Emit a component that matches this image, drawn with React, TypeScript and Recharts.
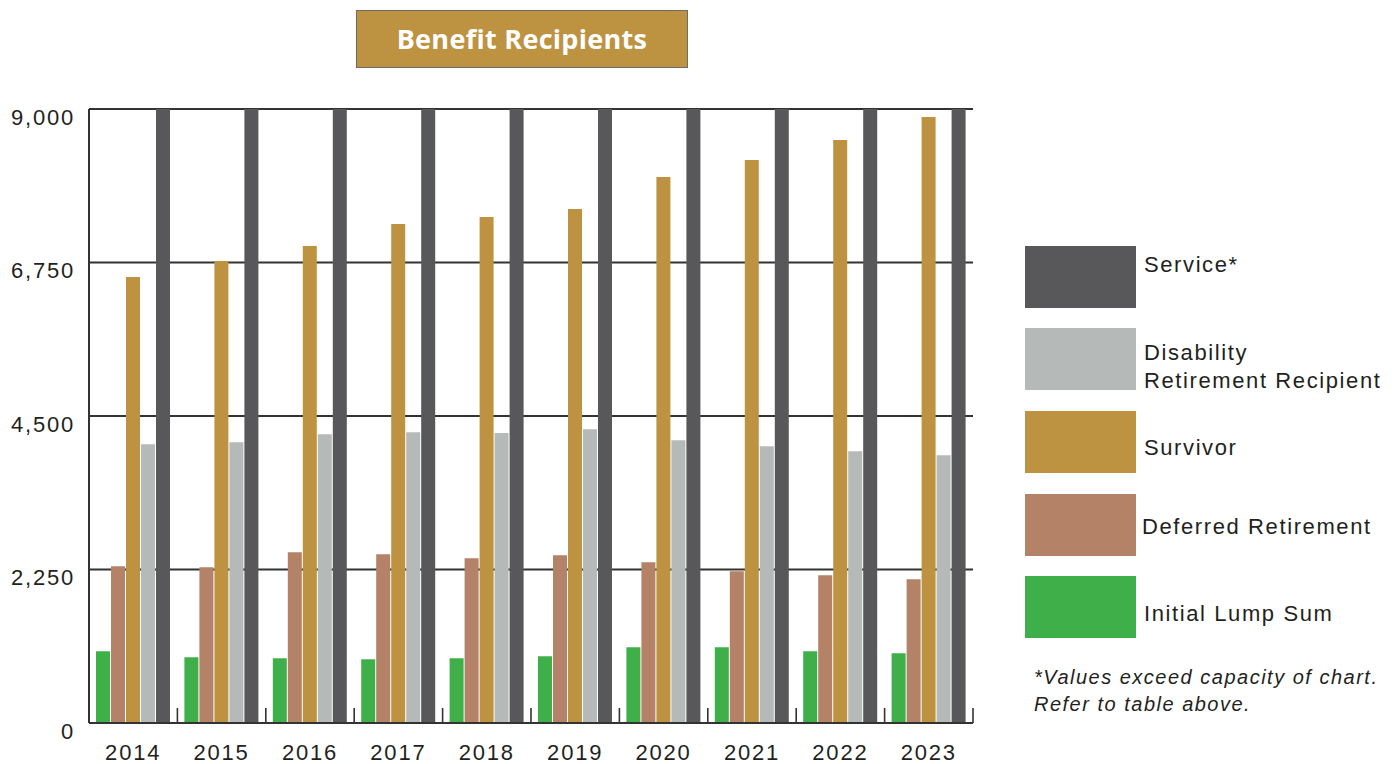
import React from 'react'
import { BarChart, Bar, XAxis, YAxis, CartesianGrid } from 'recharts'

// values (Service bars run past the top of the scale, so they sit at the cap)
const years = ['2014', '2015', '2016', '2017', '2018', '2019', '2020', '2021', '2022', '2023']
const initialLumpSum = [1051, 963, 950, 934, 949, 978, 1110, 1110, 1051, 1022]
const deferredRetirement = [2298, 2283, 2503, 2474, 2415, 2459, 2357, 2225, 2166, 2107]
const survivor = [6536, 6771, 6991, 7313, 7416, 7533, 8003, 8252, 8545, 8883]
const disabilityRetirement = [4087, 4117, 4234, 4263, 4249, 4307, 4146, 4058, 3985, 3926]
const service = [9000, 9000, 9000, 9000, 9000, 9000, 9000, 9000, 9000, 9000]
const yTicks = [0, 2250, 4500, 6750, 9000]

const data = years.map((year, i) => ({
  year,
  lump: initialLumpSum[i],
  deferred: deferredRetirement[i],
  survivor: survivor[i],
  disability: disabilityRetirement[i],
  service: service[i],
}))

const COLORS = {
  lump: '#3faf4a',
  deferred: '#b38267',
  survivor: '#bd9342',
  disability: '#b5bab8',
  service: '#58585a',
}

const FONT = '"Liberation Sans", Arial, Helvetica, sans-serif'
const INK = '#231f20'
const AXIS = '#333333'

const CHART_W = 1000
const MARGIN = { top: 109, right: 27, bottom: 0, left: 0 }
const Y_AXIS_W = 89
const BAND = (CHART_W - MARGIN.left - MARGIN.right - Y_AXIS_W) / years.length

function YearTick(props: any) {
  const { x, y, payload, index } = props
  const half = payload && payload.offset ? payload.offset : BAND / 2
  return (
    <g>
      {index > 0 && (
        <line x1={x - half} x2={x - half} y1={y} y2={y - 15} stroke={AXIS} strokeWidth={1.6} />
      )}
      {index === years.length - 1 && (
        <line x1={x + half} x2={x + half} y1={y} y2={y - 15} stroke={AXIS} strokeWidth={1.6} />
      )}
      <text
        x={x}
        y={y + 37}
        textAnchor="middle"
        fill={INK}
        style={{ fontFamily: FONT, fontSize: 22, letterSpacing: 1.8 }}
      >
        {payload.value}
      </text>
    </g>
  )
}

function CountTick(props: any) {
  const { x, y, payload } = props
  return (
    <text
      x={x}
      y={y + 15.5}
      textAnchor="end"
      fill={INK}
      style={{ fontFamily: FONT, fontSize: 22, letterSpacing: 1.8 }}
    >
      {Number(payload.value).toLocaleString('en-US')}
    </text>
  )
}

const legendItems = [
  { key: 'service', lines: ['Service*'], top: 246, baselines: [272] },
  { key: 'disability', lines: ['Disability', 'Retirement Recipient'], top: 328, baselines: [360, 388] },
  { key: 'survivor', lines: ['Survivor'], top: 411, baselines: [455] },
  { key: 'deferred', lines: ['Deferred Retirement'], top: 494, baselines: [534] },
  { key: 'lump', lines: ['Initial Lump Sum'], top: 576, baselines: [621] },
]

export default function App() {
  return (
    <div
      style={{
        position: 'absolute',
        left: 0,
        top: 0,
        width: 1397,
        height: 764,
        background: '#fff',
        overflow: 'hidden',
      }}
    >
      {/* title box */}
      <div
        style={{
          position: 'absolute',
          left: 356,
          top: 10,
          width: 330,
          height: 56,
          background: '#bd9342',
          border: '1px solid #6e6a64',
          color: '#fff',
          font: '700 27px/56px "Open Sans", sans-serif',
          letterSpacing: 0.3,
          textAlign: 'center',
        }}
      >
        Benefit Recipients
      </div>

      <div style={{ position: 'absolute', left: 0, top: 0 }}>
        <BarChart
          width={CHART_W}
          height={764}
          data={data}
          margin={MARGIN}
          barSize={14}
          barGap={1}
        >
          <CartesianGrid vertical={false} stroke={AXIS} strokeWidth={2} />
          <XAxis
            dataKey="year"
            height={41}
            interval={0}
            tickLine={false}
            tickSize={0}
            tickMargin={0}
            axisLine={{ stroke: AXIS, strokeWidth: 2 }}
            tick={<YearTick />}
          />
          <YAxis
            width={Y_AXIS_W}
            domain={[0, 9000]}
            ticks={yTicks}
            allowDataOverflow
            interval={0}
            tickLine={false}
            tickSize={0}
            tickMargin={14}
            axisLine={{ stroke: AXIS, strokeWidth: 2 }}
            tick={<CountTick />}
          />
          <Bar dataKey="lump" name="Initial Lump Sum" fill={COLORS.lump} isAnimationActive={false} />
          <Bar dataKey="deferred" name="Deferred Retirement" fill={COLORS.deferred} isAnimationActive={false} />
          <Bar dataKey="survivor" name="Survivor" fill={COLORS.survivor} isAnimationActive={false} />
          <Bar dataKey="disability" name="Disability Retirement Recipient" fill={COLORS.disability} isAnimationActive={false} />
          <Bar dataKey="service" name="Service*" fill={COLORS.service} isAnimationActive={false} />
        </BarChart>
      </div>

      {/* legend + footnote */}
      <svg
        width={1397}
        height={764}
        style={{ position: 'absolute', left: 0, top: 0, pointerEvents: 'none' }}
      >
        {legendItems.map(item => (
          <g key={item.key}>
            <rect x={1025} y={item.top} width={111} height={62} fill={COLORS[item.key as keyof typeof COLORS]} />
            {item.lines.map((line, i) => (
              <text
                key={line}
                x={item.key === 'deferred' ? 1142 : 1144}
                y={item.baselines[i]}
                fill={INK}
                style={{ fontFamily: FONT, fontSize: 22, letterSpacing: 1.6 }}
              >
                {line}
              </text>
            ))}
          </g>
        ))}
        <text
          x={1034}
          y={684}
          fill={INK}
          style={{ fontFamily: FONT, fontSize: 20, fontStyle: 'italic', letterSpacing: 1.5 }}
        >
          *Values exceed capacity of chart.
        </text>
        <text
          x={1034}
          y={711}
          fill={INK}
          style={{ fontFamily: FONT, fontSize: 20, fontStyle: 'italic', letterSpacing: 1.5 }}
        >
          Refer to table above.
        </text>
      </svg>
    </div>
  )
}
